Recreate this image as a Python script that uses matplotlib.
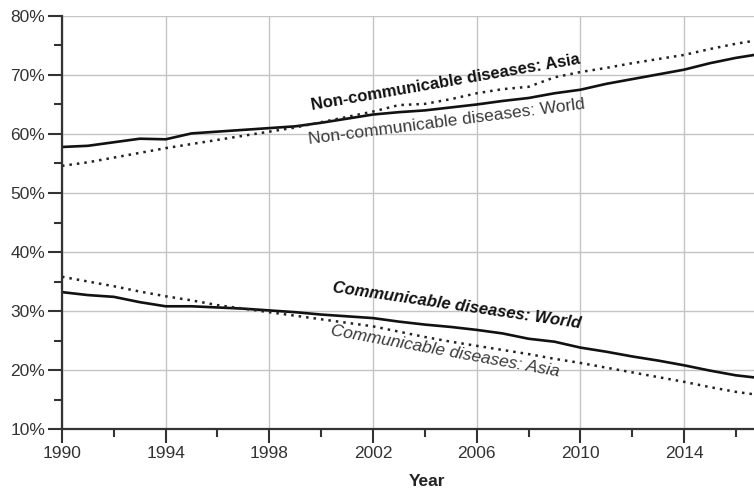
import matplotlib
matplotlib.use('Agg')
import matplotlib.pyplot as plt
from matplotlib.ticker import MultipleLocator, FuncFormatter

years = list(range(1990, 2018))

ncd_world = [57.8, 58.0, 58.6, 59.2, 59.1, 60.1, 60.4, 60.7, 61.0, 61.3,
             61.9, 62.6, 63.3, 63.7, 64.0, 64.5, 65.0, 65.6, 66.1, 66.9,
             67.5, 68.5, 69.3, 70.1, 70.9, 72.0, 72.9, 73.6]
ncd_asia = [54.6, 55.2, 56.0, 56.8, 57.6, 58.3, 59.0, 59.7, 60.4, 61.1,
            62.0, 62.9, 63.8, 64.9, 65.1, 65.9, 66.9, 67.6, 68.0, 69.6,
            70.5, 71.2, 72.0, 72.7, 73.4, 74.4, 75.3, 76.0]
cd_world = [33.2, 32.7, 32.4, 31.5, 30.8, 30.8, 30.6, 30.4, 30.1, 29.8,
            29.4, 29.1, 28.8, 28.2, 27.7, 27.3, 26.8, 26.2, 25.3, 24.8,
            23.8, 23.1, 22.3, 21.6, 20.8, 19.9, 19.1, 18.6]
cd_asia = [35.8, 35.0, 34.2, 33.3, 32.5, 31.8, 31.0, 30.4, 29.8, 29.2,
           28.6, 28.0, 27.4, 26.5, 25.6, 24.8, 24.1, 23.4, 22.7, 21.9,
           21.2, 20.4, 19.6, 18.8, 18.0, 17.1, 16.3, 15.7]

x_ticks = list(range(1990, 2015, 4))

plt.rcParams['font.family'] = ['Liberation Sans', 'DejaVu Sans']

fig = plt.figure(figsize=(7.54, 4.95), dpi=100)
ax = fig.add_axes([0.0822, 0.1333, 0.9178, 0.8344])

dot = (0, (1, 2.0))
ax.plot(years, ncd_world, color='#111111', lw=1.9, solid_capstyle='butt', zorder=3)
ax.plot(years, ncd_asia, color='#222222', lw=1.8, linestyle=dot, zorder=3)
ax.plot(years, cd_world, color='#111111', lw=1.9, solid_capstyle='butt', zorder=3)
ax.plot(years, cd_asia, color='#222222', lw=1.8, linestyle=dot, zorder=3)

ax.set_xlim(1990, 2016.7)
ax.set_ylim(10, 80)

ax.set_xticks(x_ticks)
ax.xaxis.set_minor_locator(MultipleLocator(2))
ax.yaxis.set_major_locator(MultipleLocator(10))
ax.yaxis.set_minor_locator(MultipleLocator(5))
ax.yaxis.set_major_formatter(FuncFormatter(lambda v, p: f'{v:.0f}%'))

ax.grid(True, which='major', color='#c4c4c4', lw=1.0)
ax.set_axisbelow(True)
for s in ['top', 'right']:
    ax.spines[s].set_visible(False)
for s in ['left', 'bottom']:
    ax.spines[s].set_color('#333333')
    ax.spines[s].set_linewidth(1.6)
ax.spines['left'].set_zorder(4)

ax.tick_params(which='major', length=10, width=1.5, color='#333333',
               labelsize=12.5, labelcolor='#333333', pad=2)
ax.tick_params(which='minor', length=6, width=1.5, color='#333333')

ax.set_xlabel('Year', fontsize=12.5, fontweight='bold', color='#222222')
ax.xaxis.set_label_coords(0.527, -0.11)

ax.text(1999.65, 64.0, 'Non-communicable diseases: Asia', rotation=9.8,
        rotation_mode='anchor', ha='left', va='baseline', fontsize=12,
        fontweight='bold', color='#111111', zorder=5)
ax.text(1999.55, 58.3, 'Non-communicable diseases: World', rotation=7.3,
        rotation_mode='anchor', ha='left', va='baseline', fontsize=12.5,
        color='#3a3a3a', zorder=5)
ax.text(2000.4, 33.2, 'Communicable diseases: World', rotation=-8.3,
        rotation_mode='anchor', ha='left', va='baseline', fontsize=12,
        fontweight='bold', style='italic', color='#111111', zorder=5)
ax.text(2000.35, 26.0, 'Communicable diseases: Asia', rotation=-10.3,
        rotation_mode='anchor', ha='left', va='baseline', fontsize=12.5,
        style='italic', color='#3a3a3a', zorder=5)

fig.savefig('out.png', dpi=100)
